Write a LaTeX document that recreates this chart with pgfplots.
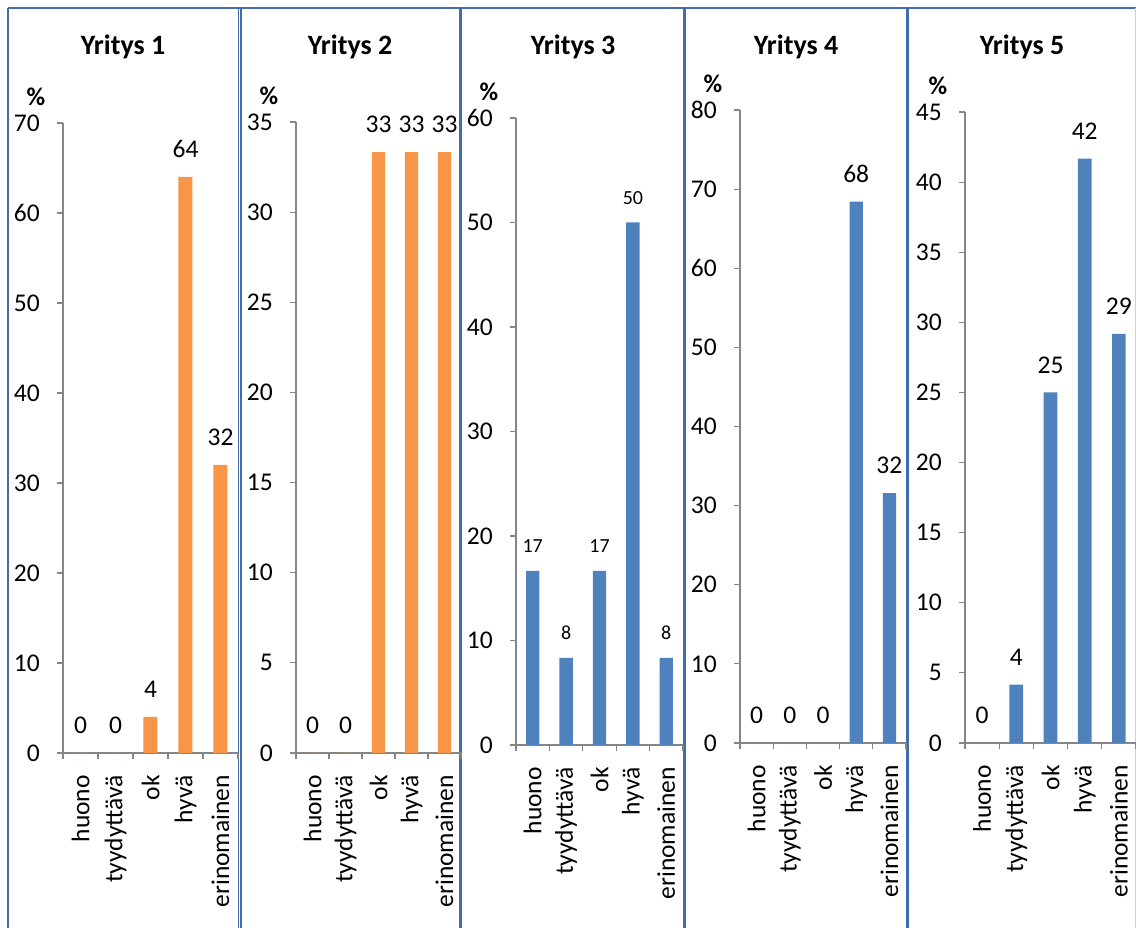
\documentclass[border=0pt]{standalone}
\usepackage{fontspec}
\setmainfont{Carlito}
\usepackage{pgfplots}
\pgfplotsset{compat=1.18}

\definecolor{barorange}{RGB}{247,150,70}
\definecolor{barblue}{RGB}{79,129,189}
\definecolor{frameblue}{RGB}{66,108,170}
\definecolor{axisgray}{RGB}{134,134,134}

\newcommand{\labfont}{\fontsize{25.5}{30}\selectfont}
\newcommand{\smallfont}{\fontsize{20}{24}\selectfont}

\pgfplotsset{
  panel/.style={
    scale only axis,
    anchor=south west,
    xmin=-0.5, xmax=4.5, ymin=0,
    clip=false,
    axis lines=left,
    axis line style={-, draw=axisgray, line width=1.2pt},
    every axis x line/.append style={-},
    every axis y line/.append style={-},
    xtick={0,1,2,3,4},
    xticklabels={huono,tyydyttävä,ok,hyvä,erinomainen},
    major x tick style={draw=none},
    minor xtick={-0.5,0.5,1.5,2.5,3.5,4.5},
    tick align=outside,
    major tick length=6pt,
    minor tick length=6pt,
    tick style={axisgray, line width=1.2pt},
    /pgf/number format/assume math mode=true,
    ticklabel style={font=\labfont},
    xticklabel style={rotate=90, anchor=east, inner sep=0pt},
    yticklabel style={anchor=east, inner sep=0pt},
    xticklabel shift=16pt,
    yticklabel shift=17pt,
    nodes near coords={\pgfmathprintnumber[fixed,precision=0]{\pgfplotspointmeta}},
    nodes near coords style={font=\labfont, anchor=south, inner sep=0pt, yshift=19pt},
  },
  bars/.style={ybar, bar width=0.4, draw=none, fill=#1},
}

\newcommand{\pct}{\node[font=\labfont\bfseries] at (rel axis cs:0,1) [xshift=-27pt, yshift=26pt] {\%};}

\begin{document}
\begin{tikzpicture}
\useasboundingbox (0,0) rectangle (1136pt,928pt);

% panel frames
\begin{scope}[draw=frameblue]
  \draw[line width=2pt] (8pt,920pt) -- (1136pt,920pt);
  \draw[line width=2pt] (8pt,920pt) -- (8pt,-2pt);
  \draw[line width=1.3pt] (238.5pt,920pt) -- (238.5pt,-2pt);
  \draw[line width=1.3pt] (241pt,920pt) -- (241pt,-2pt);
  \draw[line width=2.5pt] (460.5pt,920pt) -- (460.5pt,-2pt);
  \draw[line width=2.5pt] (684.5pt,920pt) -- (684.5pt,-2pt);
  \draw[line width=3.5pt] (907.5pt,920pt) -- (907.5pt,-2pt);
  \draw[line width=1pt, draw=frameblue!30] (1135pt,920pt) -- (1135pt,-2pt);
\end{scope}

% titles
\node[font=\fontsize{28}{32}\selectfont\bfseries, anchor=base] at (123pt,873pt) {Yritys 1};
\node[font=\fontsize{28}{32}\selectfont\bfseries, anchor=base] at (350pt,873pt) {Yritys 2};
\node[font=\fontsize{28}{32}\selectfont\bfseries, anchor=base] at (573pt,873pt) {Yritys 3};
\node[font=\fontsize{28}{32}\selectfont\bfseries, anchor=base] at (796pt,873pt) {Yritys 4};
\node[font=\fontsize{28}{32}\selectfont\bfseries, anchor=base] at (1022pt,873pt) {Yritys 5};

% Yritys 1
\begin{axis}[panel, at={(63pt,175pt)}, width=175pt, height=630pt,
  ymax=70, ytick={0,10,...,70}]
  \addplot[bars=barorange] coordinates {(0,0) (1,0) (2,4) (3,64) (4,32)};
  \pct
\end{axis}

% Yritys 2
\begin{axis}[panel, at={(296pt,175pt)}, width=165pt, height=631pt,
  ymax=35, ytick={0,5,...,35}]
  \addplot[bars=barorange] coordinates {(0,0) (1,0) (2,33.33) (3,33.33) (4,33.33)};
  \pct
\end{axis}

% Yritys 3
\begin{axis}[panel, at={(516pt,183pt)}, width=167pt, height=627pt,
  ymax=60, ytick={0,10,...,60},
  nodes near coords style={font=\smallfont, yshift=-1pt}]
  \addplot[bars=barblue] coordinates {(0,16.67) (1,8.33) (2,16.67) (3,50) (4,8.33)};
  \pct
\end{axis}

% Yritys 4
\begin{axis}[panel, at={(740pt,185pt)}, width=166pt, height=633pt,
  ymax=80, ytick={0,10,...,80}]
  \addplot[bars=barblue] coordinates {(0,0) (1,0) (2,0) (3,68.42) (4,31.58)};
  \pct
\end{axis}

% Yritys 5
\begin{axis}[panel, at={(965pt,185pt)}, width=171pt, height=631pt,
  ymax=45, ytick={0,5,...,45}]
  \addplot[bars=barblue] coordinates {(0,0) (1,4.17) (2,25) (3,41.67) (4,29.17)};
  \pct
\end{axis}
\end{tikzpicture}
\end{document}
